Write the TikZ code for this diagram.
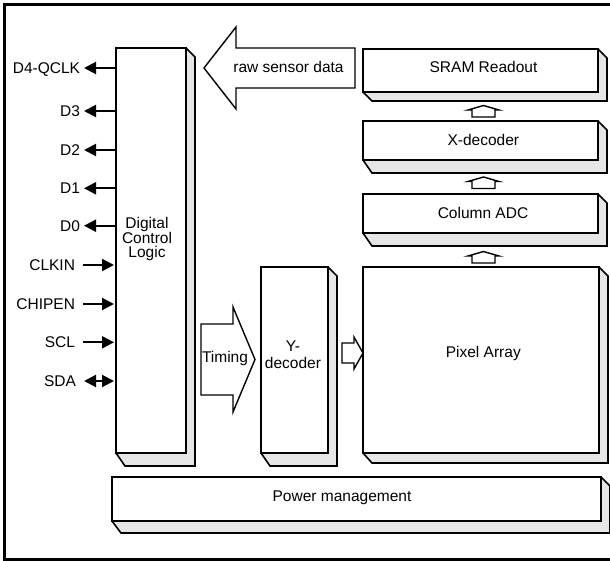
\documentclass[tikz,border=0pt]{standalone}
\usepackage{fontspec}
\setmainfont{Liberation Sans}
\usetikzlibrary{arrows.meta,calc,backgrounds}
\definecolor{shgray}{RGB}{230,230,230}
\newcommand\mkextrude[2]{%
  \begin{pgfonlayer}{background}
  \fill[shgray] (#1.north east) -- ++(9,9) -- ($(#1.south east)+(9,#2)$) -- ($(#1.south west)+(9,#2)$) -- (#1.south west) -- (#1.south east) -- cycle;
  \draw[extline] (#1.north east) -- ++(9,9) -- ($(#1.south east)+(9,#2)$) -- ($(#1.south west)+(9,#2)$) -- (#1.south west);
  \end{pgfonlayer}}
\newcommand\upblock[2]{%
  \draw[blockarrow] (#1,#2) -- ++(15.5,4.5) -- ++(-4,0) -- ++(0,7) -- ++(-23,0) -- ++(0,-7) -- ++(-4,0) -- cycle;}
\begin{document}
\begin{tikzpicture}[x=1pt,y=-1pt,
  every node/.style={font=\fontsize{15.5}{17}\selectfont, inner sep=0pt, outer sep=0pt},
  box/.style={draw, line width=2pt, fill=white, anchor=north west},
  lbl/.style={text height=11pt, text depth=0pt},
  pin/.style={line width=2pt, -{Triangle[length=12pt,width=12pt]}},
  pinboth/.style={line width=2pt, {Triangle[length=12pt,width=12pt]}-{Triangle[length=12pt,width=12pt]}},
  blockarrow/.style={draw, line width=1.4pt, fill=white, line join=miter},
  extline/.style={line width=1.6pt, line join=miter},
]
\useasboundingbox (0,0) rectangle (610,561);
\clip (0,0) rectangle (610,561);
\draw[line width=2.5pt] (4.5,4.5) rectangle (625,559.5);

% boxes
\node[box, minimum width=70pt, minimum height=405pt] (dcl) at (116,48) {};
\node[box, minimum width=235pt, minimum height=43pt] (sram) at (363,49) {};
\node[box, minimum width=235pt, minimum height=39pt] (xdec) at (363,121) {};
\node[box, minimum width=235pt, minimum height=39pt] (cadc) at (363,194) {};
\node[box, minimum width=236pt, minimum height=186pt] (pix) at (363,267) {};
\node[box, minimum width=67pt, minimum height=186pt] (ydec) at (261,267) {};
\node[box, minimum width=489pt, minimum height=44pt] (pwr) at (112,477) {};
\mkextrude{dcl}{13}
\mkextrude{sram}{9}
\mkextrude{xdec}{13}
\mkextrude{cadc}{13}
\mkextrude{pix}{10}
\mkextrude{ydec}{13}
\mkextrude{pwr}{12}

% box texts
\node[align=center, font=\fontsize{15.5}{14}\selectfont] (dclt) at (147,239) {Digital\\Control\\Logic};
\node[lbl] (sramt) at (483.5,66.7) {SRAM Readout};
\node[lbl] (xdect) at (483.3,139.7) {X-decoder};
\node[lbl] (cadct) at (483,212.8) {Column ADC};
\node[lbl] (pixt) at (483.3,352) {Pixel Array};
\node[align=center, font=\fontsize{15.5}{16.7}\selectfont] (ydect) at (293,355) {Y-\\decoder};
\node[lbl] (pwrt) at (342,496) {Power management};

% block arrows
\draw[blockarrow] (355,48) -- (236,48) -- (236,27) -- (204,68) -- (236,109) -- (236,88) -- (355,88) -- cycle;
\node[lbl] (rawt) at (288.5,66.7) {raw sensor data};
\draw[blockarrow] (201,324) -- (233,324) -- (233,307) -- (255,359.5) -- (233,412) -- (233,395) -- (201,395) -- cycle;
\node[lbl] (timt) at (225,357.2) {Timing};
\draw[blockarrow] (342,343) -- (354,343) -- (354,337) -- (363,353) -- (354,369) -- (354,363) -- (342,363) -- cycle;
\upblock{483.5}{105.5}
\upblock{483.5}{177}
\upblock{483.5}{251.5}

% pins
\node[lbl, anchor=east] (d4) at (80,68) {D4-QCLK};
\node[lbl, anchor=east] (d3) at (80,111) {D3};
\node[lbl, anchor=east] (d2) at (80,150) {D2};
\node[lbl, anchor=east] (d1) at (80,188.3) {D1};
\node[lbl, anchor=east] (d0) at (80,225.7) {D0};
\node[lbl, anchor=east] (clkin) at (75,265) {CLKIN};
\node[lbl, anchor=east] (chipen) at (75,304) {CHIPEN};
\node[lbl, anchor=east] (scl) at (75,342.3) {SCL};
\node[lbl, anchor=east] (sda) at (76,381) {SDA};
\foreach \p in {d4,d3,d2,d1,d0}
  \draw[pin] (dcl.west |- \p.east) -- ($(\p.east)+(4,0)$);
\foreach \p in {clkin,chipen,scl}
  \draw[pin] ($(\p.east)+(8,0)$) -- ($(dcl.west |- \p.east)+(-2,0)$);
\draw[pinboth] ($(sda.east)+(8,0)$) -- ($(dcl.west |- sda.east)+(-2,0)$);
\end{tikzpicture}
\end{document}
